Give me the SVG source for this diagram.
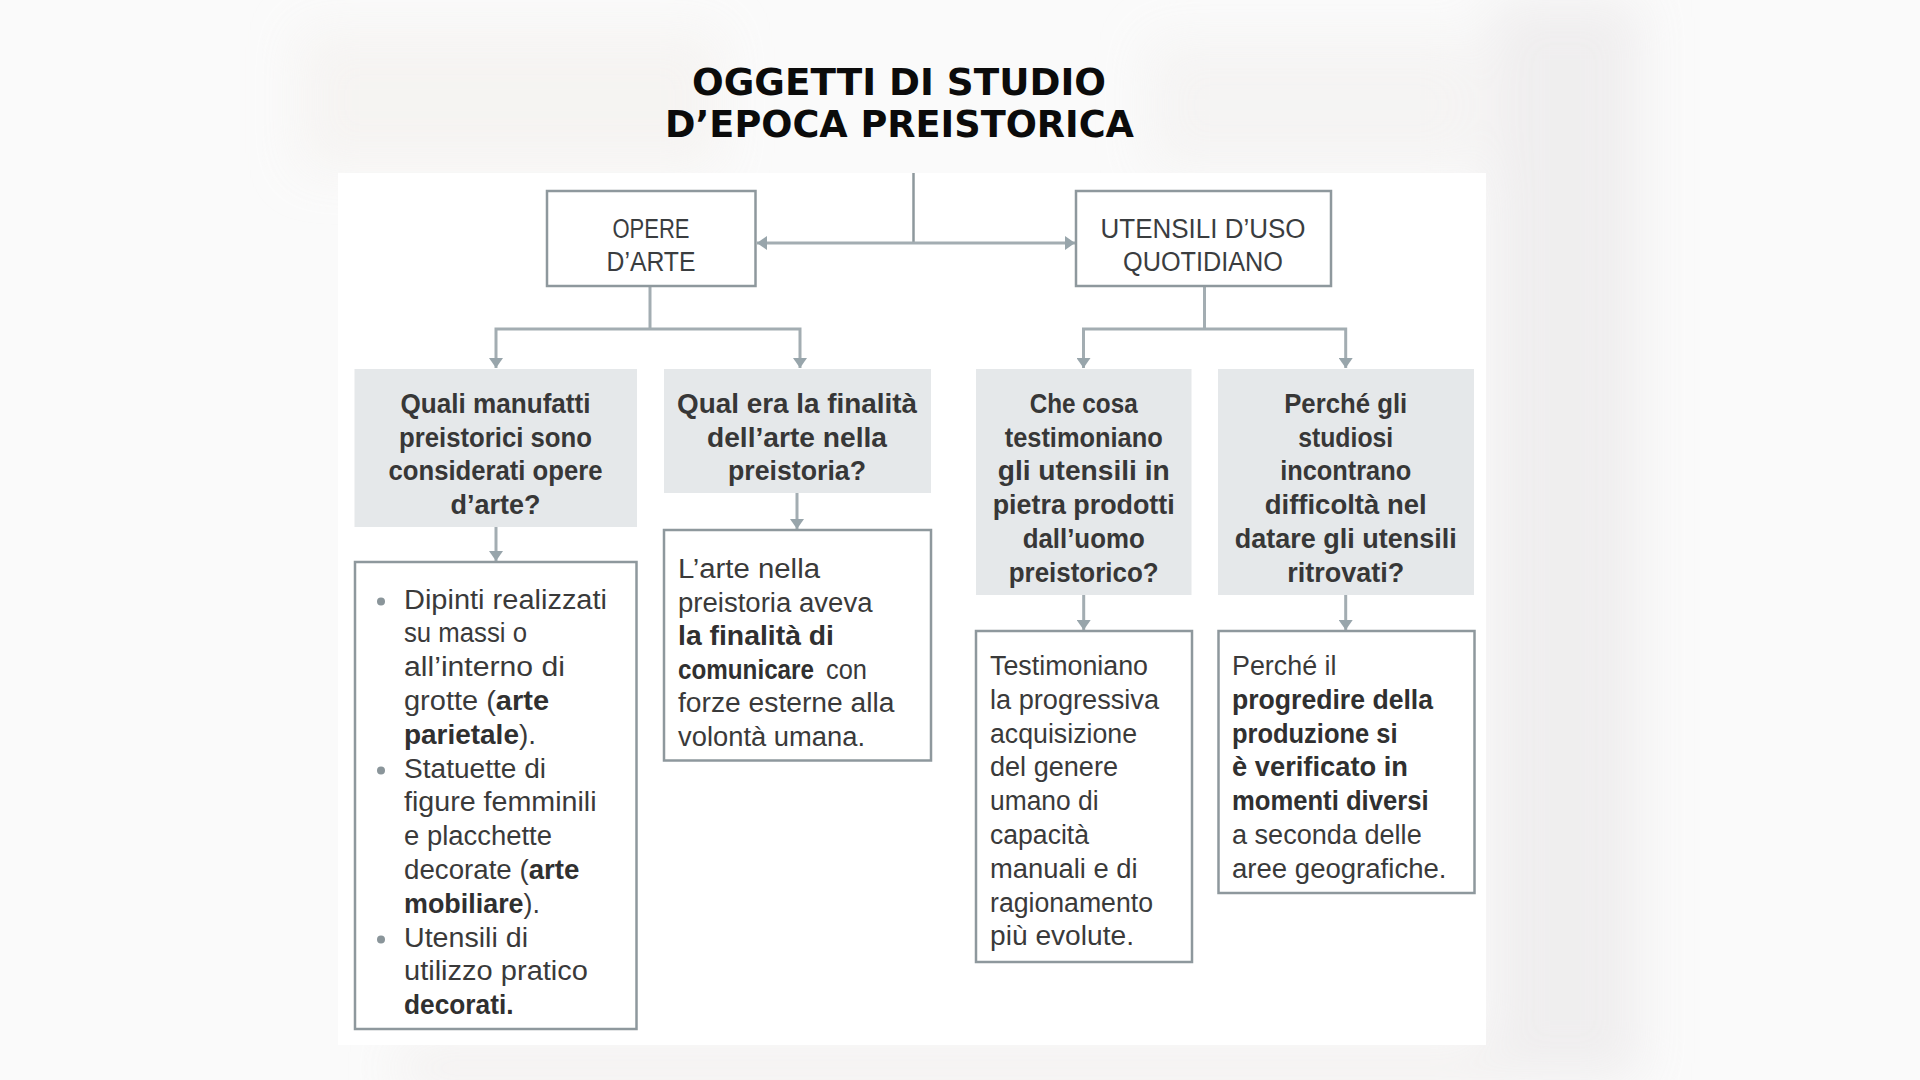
<svg xmlns="http://www.w3.org/2000/svg" width="1920" height="1080" viewBox="0 0 1920 1080">
  <defs>
    <style>
      .title{font-family:"DejaVu Sans","Liberation Sans",sans-serif;font-weight:bold;font-size:37px;fill:#0b0b0b;text-anchor:middle}
      .h{font-family:"Liberation Sans",Arial,sans-serif;font-size:27px;fill:#3a3d3f;text-anchor:middle}
      .q{font-family:"Liberation Sans",Arial,sans-serif;font-weight:bold;font-size:28px;fill:#373737;text-anchor:middle}
      .t{font-family:"Liberation Sans",Arial,sans-serif;font-size:27px;fill:#3a3a3a}
      .b{font-weight:bold;fill:#303030}
      .box{fill:#ffffff;stroke:#8e989d;stroke-width:2.5}
      .qbox{fill:#e5e8ea;stroke:none}
      .conn{fill:none;stroke:#a3adb2;stroke-width:3}
      .bullet{fill:#8a959a}
    </style>
    <marker id="arr" viewBox="0 0 10 14" markerWidth="10" markerHeight="14" refX="10" refY="7" orient="auto-start-reverse" markerUnits="userSpaceOnUse">
      <path d="M0,0 L10,7 L0,14 Z" fill="#98a5ab"/>
    </marker>
    <filter id="blur" x="-50%" y="-50%" width="200%" height="200%">
      <feGaussianBlur stdDeviation="25"/>
    </filter>
  </defs>

  <!-- background -->
  <rect x="0" y="0" width="1920" height="1080" fill="#fafafa"/>
  <g filter="url(#blur)" opacity="0.85">
    <rect x="1490" y="0" width="150" height="1080" fill="#eeeced"/>
    <rect x="300" y="30" width="420" height="140" fill="#f5f3f1"/>
    <rect x="1150" y="40" width="330" height="130" fill="#f4f3f2"/>
    <rect x="400" y="1048" width="1100" height="40" fill="#f1eeed"/>
  </g>

  <!-- white panel -->
  <rect x="338" y="173" width="1148" height="872" fill="#ffffff"/>

  <!-- title -->
  <g id="title">
    <text class="title" x="899" y="95" textLength="414" lengthAdjust="spacingAndGlyphs">OGGETTI DI STUDIO</text>
    <text class="title" x="899.5" y="137" textLength="469" lengthAdjust="spacingAndGlyphs">D’EPOCA PREISTORICA</text>
  </g>

  <!-- connectors -->
  <g id="connectors">
    <line x1="913.5" y1="173" x2="913.5" y2="243" stroke="#8e989d" stroke-width="2.5"/>
    <line class="conn" x1="757" y1="243" x2="1075" y2="243" marker-start="url(#arr)" marker-end="url(#arr)"/>
    <polyline class="conn" points="650,286 650,329"/>
    <polyline class="conn" points="496,368 496,329 800,329 800,368" marker-start="url(#arr)" marker-end="url(#arr)"/>
    <polyline class="conn" points="1204.5,286 1204.5,329"/>
    <polyline class="conn" points="1083.5,368 1083.5,329 1345.7,329 1345.7,368" marker-start="url(#arr)" marker-end="url(#arr)"/>
    <line class="conn" x1="496" y1="527" x2="496" y2="561" marker-end="url(#arr)"/>
    <line class="conn" x1="797" y1="493" x2="797" y2="529" marker-end="url(#arr)"/>
    <line class="conn" x1="1083.7" y1="595" x2="1083.7" y2="630" marker-end="url(#arr)"/>
    <line class="conn" x1="1345.7" y1="595" x2="1345.7" y2="630" marker-end="url(#arr)"/>
  </g>

  <!-- top boxes -->
  <g id="opere">
    <rect class="box" x="547" y="191" width="208.5" height="95"/>
    <text class="h" x="651" y="238.3" textLength="77" lengthAdjust="spacingAndGlyphs">OPERE</text>
    <text class="h" x="651" y="270.7" textLength="89" lengthAdjust="spacingAndGlyphs">D’ARTE</text>
  </g>
  <g id="utensili">
    <rect class="box" x="1076" y="191" width="255" height="95"/>
    <text class="h" x="1203" y="238.3" textLength="205" lengthAdjust="spacingAndGlyphs">UTENSILI D’USO</text>
    <text class="h" x="1203" y="270.7" textLength="160" lengthAdjust="spacingAndGlyphs">QUOTIDIANO</text>
  </g>

  <!-- question boxes -->
  <g id="q1">
    <rect class="qbox" x="354.5" y="369" width="282.5" height="158"/>
    <text class="q" x="495.5" y="413" textLength="190" lengthAdjust="spacingAndGlyphs">Quali manufatti</text>
    <text class="q" x="495.5" y="446.7" textLength="193" lengthAdjust="spacingAndGlyphs">preistorici sono</text>
    <text class="q" x="495.5" y="480.4" textLength="214" lengthAdjust="spacingAndGlyphs">considerati opere</text>
    <text class="q" x="495.5" y="514.1" textLength="90" lengthAdjust="spacingAndGlyphs">d’arte?</text>
  </g>
  <g id="q2">
    <rect class="qbox" x="664" y="369" width="267" height="124"/>
    <text class="q" x="797" y="413" textLength="240" lengthAdjust="spacingAndGlyphs">Qual era la finalità</text>
    <text class="q" x="797" y="446.7" textLength="180" lengthAdjust="spacingAndGlyphs">dell’arte nella</text>
    <text class="q" x="797" y="480.4" textLength="138" lengthAdjust="spacingAndGlyphs">preistoria?</text>
  </g>
  <g id="q3">
    <rect class="qbox" x="976" y="369" width="215.5" height="226"/>
    <text class="q" x="1083.7" y="413" textLength="108" lengthAdjust="spacingAndGlyphs">Che cosa</text>
    <text class="q" x="1083.7" y="446.7" textLength="158" lengthAdjust="spacingAndGlyphs">testimoniano</text>
    <text class="q" x="1083.7" y="480.4" textLength="172" lengthAdjust="spacingAndGlyphs">gli utensili in</text>
    <text class="q" x="1083.7" y="514.1" textLength="182" lengthAdjust="spacingAndGlyphs">pietra prodotti</text>
    <text class="q" x="1083.7" y="547.8" textLength="122" lengthAdjust="spacingAndGlyphs">dall’uomo</text>
    <text class="q" x="1083.7" y="581.5" textLength="150" lengthAdjust="spacingAndGlyphs">preistorico?</text>
  </g>
  <g id="q4">
    <rect class="qbox" x="1218" y="369" width="256" height="226"/>
    <text class="q" x="1345.7" y="413" textLength="123" lengthAdjust="spacingAndGlyphs">Perché gli</text>
    <text class="q" x="1345.7" y="446.7" textLength="95" lengthAdjust="spacingAndGlyphs">studiosi</text>
    <text class="q" x="1345.7" y="480.4" textLength="131" lengthAdjust="spacingAndGlyphs">incontrano</text>
    <text class="q" x="1345.7" y="514.1" textLength="162" lengthAdjust="spacingAndGlyphs">difficoltà nel</text>
    <text class="q" x="1345.7" y="547.8" textLength="222" lengthAdjust="spacingAndGlyphs">datare gli utensili</text>
    <text class="q" x="1345.7" y="581.5" textLength="117" lengthAdjust="spacingAndGlyphs">ritrovati?</text>
  </g>

  <!-- answer boxes -->
  <g id="a1">
    <rect class="box" x="355" y="562" width="281.5" height="467"/>
    <circle class="bullet" cx="381" cy="601.5" r="4"/>
    <circle class="bullet" cx="381" cy="770.5" r="4"/>
    <circle class="bullet" cx="381" cy="939.5" r="4"/>
    <text class="t" x="404" y="608.5" textLength="203" lengthAdjust="spacingAndGlyphs">Dipinti realizzati</text>
    <text class="t" x="404" y="642.3" textLength="123" lengthAdjust="spacingAndGlyphs">su massi o</text>
    <text class="t" x="404" y="676.1" textLength="161" lengthAdjust="spacingAndGlyphs">all’interno di</text>
    <text class="t" x="404" y="709.9" textLength="145" lengthAdjust="spacingAndGlyphs">grotte (<tspan class="b">arte</tspan></text>
    <text class="t" x="404" y="743.7" textLength="132" lengthAdjust="spacingAndGlyphs"><tspan class="b">parietale</tspan>).</text>
    <text class="t" x="404" y="777.5" textLength="142" lengthAdjust="spacingAndGlyphs">Statuette di</text>
    <text class="t" x="404" y="811.3" textLength="192.5" lengthAdjust="spacingAndGlyphs">figure femminili</text>
    <text class="t" x="404" y="845.1" textLength="148" lengthAdjust="spacingAndGlyphs">e placchette</text>
    <text class="t" x="404" y="878.9" textLength="175.5" lengthAdjust="spacingAndGlyphs">decorate (<tspan class="b">arte</tspan></text>
    <text class="t" x="404" y="912.7" textLength="136" lengthAdjust="spacingAndGlyphs"><tspan class="b">mobiliare</tspan>).</text>
    <text class="t" x="404" y="946.5" textLength="124" lengthAdjust="spacingAndGlyphs">Utensili di</text>
    <text class="t" x="404" y="980.3" textLength="184" lengthAdjust="spacingAndGlyphs">utilizzo pratico</text>
    <text class="t" x="404" y="1014.1" textLength="109.5" lengthAdjust="spacingAndGlyphs"><tspan class="b">decorati.</tspan></text>
  </g>
  <g id="a2">
    <rect class="box" x="664" y="530" width="267" height="230.5"/>
    <text class="t" x="678" y="578" textLength="142" lengthAdjust="spacingAndGlyphs">L’arte nella</text>
    <text class="t" x="678" y="611.5" textLength="194.5" lengthAdjust="spacingAndGlyphs">preistoria aveva</text>
    <text class="t" x="678" y="645" textLength="156" lengthAdjust="spacingAndGlyphs"><tspan class="b">la finalità di</tspan></text>
    <text class="t b" x="678" y="678.5" textLength="136" lengthAdjust="spacingAndGlyphs">comunicare</text>
    <text class="t" x="826" y="678.5" textLength="41" lengthAdjust="spacingAndGlyphs">con</text>
    <text class="t" x="678" y="712.2" textLength="216.5" lengthAdjust="spacingAndGlyphs">forze esterne alla</text>
    <text class="t" x="678" y="746" textLength="187" lengthAdjust="spacingAndGlyphs">volontà umana.</text>
  </g>
  <g id="a3">
    <rect class="box" x="976" y="631" width="216" height="331"/>
    <text class="t" x="990" y="675" textLength="158" lengthAdjust="spacingAndGlyphs">Testimoniano</text>
    <text class="t" x="990" y="708.8" textLength="169" lengthAdjust="spacingAndGlyphs">la progressiva</text>
    <text class="t" x="990" y="742.6" textLength="147" lengthAdjust="spacingAndGlyphs">acquisizione</text>
    <text class="t" x="990" y="776.4" textLength="128" lengthAdjust="spacingAndGlyphs">del genere</text>
    <text class="t" x="990" y="810.2" textLength="108.6" lengthAdjust="spacingAndGlyphs">umano di</text>
    <text class="t" x="990" y="844" textLength="99" lengthAdjust="spacingAndGlyphs">capacità</text>
    <text class="t" x="990" y="877.8" textLength="147.6" lengthAdjust="spacingAndGlyphs">manuali e di</text>
    <text class="t" x="990" y="911.6" textLength="163" lengthAdjust="spacingAndGlyphs">ragionamento</text>
    <text class="t" x="990" y="945.4" textLength="144" lengthAdjust="spacingAndGlyphs">più evolute.</text>
  </g>
  <g id="a4">
    <rect class="box" x="1218.5" y="631" width="256" height="262"/>
    <text class="t" x="1232" y="675" textLength="104.5" lengthAdjust="spacingAndGlyphs">Perché il</text>
    <text class="t" x="1232" y="708.8" textLength="201" lengthAdjust="spacingAndGlyphs"><tspan class="b">progredire della</tspan></text>
    <text class="t" x="1232" y="742.6" textLength="165.5" lengthAdjust="spacingAndGlyphs"><tspan class="b">produzione si</tspan></text>
    <text class="t" x="1232" y="776.4" textLength="176" lengthAdjust="spacingAndGlyphs"><tspan class="b">è verificato in</tspan></text>
    <text class="t" x="1232" y="810.2" textLength="196.5" lengthAdjust="spacingAndGlyphs"><tspan class="b">momenti diversi</tspan></text>
    <text class="t" x="1232" y="844" textLength="189.7" lengthAdjust="spacingAndGlyphs">a seconda delle</text>
    <text class="t" x="1232" y="877.8" textLength="214.5" lengthAdjust="spacingAndGlyphs">aree geografiche.</text>
  </g>
</svg>
